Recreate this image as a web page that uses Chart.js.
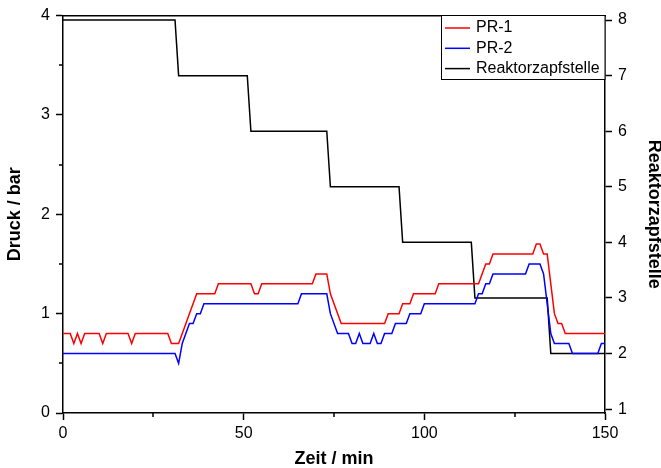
<!DOCTYPE html>
<html>
<head>
<meta charset="utf-8">
<script src="https://cdn.jsdelivr.net/npm/chart.js@4"></script>
<style>
html,body{margin:0;padding:0;background:#fff;}
#wrap{width:661px;height:468px;position:relative;}
</style>
</head>
<body>
<div id="wrap"><canvas id="c" width="661" height="468"></canvas></div>
<script>
// ---- data ----
const pr1Time  = [0,2,3,4,5,6,10,11,12,18,19,20,29,30,32,37,42,43,52,53,54,55,69,70,73,74,77,89,90,93,94,96,97,103,104,115,117,118,119,130,131,132,133,134,135,136,137,138,139,150];
const pr1Druck = [0.8,0.8,0.7,0.8,0.7,0.8,0.8,0.7,0.8,0.8,0.7,0.8,0.8,0.7,0.7,1.2,1.2,1.3,1.3,1.2,1.2,1.3,1.3,1.4,1.4,1.2,0.9,0.9,1.0,1.0,1.1,1.1,1.2,1.2,1.3,1.3,1.5,1.5,1.6,1.6,1.7,1.7,1.6,1.6,1.3,1.0,0.9,0.9,0.8,0.8];

const pr2Time  = [0,31,32,33,35,36,37,38,39,65,66,73,74,76,79,80,81,82,83,85,86,87,88,89,91,92,95,96,99,100,114,115,116,117,118,119,128,129,132,133,134,135,136,140,141,148,149,150];
const pr2Druck = [0.6,0.6,0.5,0.7,0.9,0.9,1.0,1.0,1.1,1.1,1.2,1.2,1.0,0.8,0.8,0.7,0.7,0.8,0.7,0.7,0.8,0.7,0.7,0.8,0.8,0.9,0.9,1.0,1.0,1.1,1.1,1.2,1.2,1.3,1.3,1.4,1.4,1.5,1.5,1.4,1.1,0.8,0.7,0.7,0.6,0.6,0.7,0.7];

const zapfTime   = [0,31,32,51,52,73,74,93,94,113,114,134,135,150];
const zapfStelle = [8,8,7,7,6,6,5,5,4,4,3,3,2,2];

const seriesLabels = ['PR-1','PR-2','Reaktorzapfstelle'];
const seriesColors = ['#ff0000','#0000ff','#000000'];

const xMajorTicks = [0,50,100,150];
const xMinorTicks = [25,75,125];
const yLeftMajorTicks = [0,1,2,3,4];
const yLeftMinorTicks = [0.5,1.5,2.5,3.5];
const yRightTicks = [1,2,3,4,5,6,7,8];

const axisTitleX = 'Zeit / min';
const axisTitleYLeft = 'Druck / bar';
const axisTitleYRight = 'Reaktorzapfstelle';

// ---- build ----
const FONT = '"Liberation Sans", Arial, Helvetica, sans-serif';
Chart.defaults.font.family = FONT;
Chart.defaults.color = '#000';

function pts(t, v){ return t.map((x,i)=>({x:x, y:v[i]})); }

const bgPlugin = {
  id:'bg',
  beforeDraw(chart){
    const c = chart.ctx;
    c.save(); c.fillStyle='#fff'; c.fillRect(0,0,chart.width,chart.height); c.restore();
  }
};

const minorTickPlugin = {
  id:'minorTicks',
  afterDraw(chart){
    const c = chart.ctx, x = chart.scales.x, y = chart.scales.y;
    const a = chart.chartArea;
    c.save();
    c.strokeStyle='#000'; c.lineWidth=1.5;
    c.beginPath();
    xMinorTicks.forEach(v=>{ const px = Math.round(x.getPixelForValue(v)); c.moveTo(px, a.bottom); c.lineTo(px, a.bottom+4); });
    yLeftMinorTicks.forEach(v=>{ const py = Math.round(y.getPixelForValue(v)); c.moveTo(a.left, py); c.lineTo(a.left-4, py); });
    c.stroke();
    c.restore();
  }
};

const legendPlugin = {
  id:'boxLegend',
  afterDraw(chart){
    const c = chart.ctx, a = chart.chartArea;
    const bx = 441, by = 15.5, bw = a.right - bx, bh = 64;
    c.save();
    c.fillStyle='#fff';
    c.fillRect(bx, by, bw, bh);
    c.strokeStyle='#000'; c.lineWidth=1;
    c.strokeRect(bx+0.5, by, bw-0.5, bh);
    c.font = '16px ' + FONT;
    c.textBaseline='middle'; c.textAlign='left';
    chart.data.datasets.forEach((ds,i)=>{
      const yy = 28 + i*20.3;
      c.strokeStyle = ds.borderColor; c.lineWidth = 1.5;
      c.beginPath(); c.moveTo(445, yy); c.lineTo(470, yy); c.stroke();
      c.fillStyle='#000';
      c.fillText(ds.label, 476, yy);
    });
    c.restore();
  }
};

const gridCfg = {display:true, drawOnChartArea:false, drawTicks:true, tickLength:7, tickWidth:1.5, tickColor:'#000'};
const borderCfg = {display:true, color:'#000', width:1.5};

new Chart(document.getElementById('c'), {
  type:'line',
  data:{
    datasets:[
      {label:seriesLabels[0], data:pts(pr1Time, pr1Druck), borderColor:seriesColors[0], yAxisID:'y'},
      {label:seriesLabels[1], data:pts(pr2Time, pr2Druck), borderColor:seriesColors[1], yAxisID:'y'},
      {label:seriesLabels[2], data:pts(zapfTime, zapfStelle), borderColor:seriesColors[2], yAxisID:'y2'}
    ]
  },
  options:{
    responsive:false,
    animation:false,
    devicePixelRatio:1,
    layout:{padding:0},
    elements:{
      point:{radius:0, hoverRadius:0},
      line:{borderWidth:1.5, tension:0, fill:false}
    },
    plugins:{legend:{display:false}, tooltip:{enabled:false}},
    scales:{
      x:{
        type:'linear', position:'bottom', min:0, max:150,
        afterBuildTicks(s){ s.ticks = xMajorTicks.map(v=>({value:v})); },
        afterFit(s){ s.height = 55; },
        grid:gridCfg, border:borderCfg,
        ticks:{font:{size:16}, color:'#000', padding:4, maxRotation:0},
        title:{display:true, text:axisTitleX, font:{size:18, weight:'bold'}, color:'#000', padding:{top:0,bottom:-2}}
      },
      xTop:{
        type:'linear', position:'top', min:0, max:150,
        afterFit(s){ s.height = 14; },
        grid:{display:false, drawOnChartArea:false, drawTicks:false},
        border:borderCfg,
        ticks:{display:false}
      },
      y:{
        type:'linear', position:'left', min:0, max:4,
        afterBuildTicks(s){ s.ticks = yLeftMajorTicks.map(v=>({value:v})); },
        afterFit(s){ s.width = 63; },
        grid:gridCfg, border:borderCfg,
        ticks:{font:{size:16}, color:'#000', padding:6},
        title:{display:true, text:axisTitleYLeft, font:{size:18, weight:'bold'}, color:'#000', padding:{top:4,bottom:0}}
      },
      y2:{
        type:'linear', position:'right', min:0.93, max:8.08,
        afterBuildTicks(s){ s.ticks = yRightTicks.map(v=>({value:v})); },
        afterFit(s){ s.width = 56; },
        grid:gridCfg, border:borderCfg,
        ticks:{font:{size:16}, color:'#000', padding:6},
        title:{display:true, text:axisTitleYRight, font:{size:18, weight:'bold'}, color:'#000', padding:{top:-4,bottom:0}}
      }
    }
  },
  plugins:[bgPlugin, minorTickPlugin, legendPlugin]
});
</script>
</body>
</html>
